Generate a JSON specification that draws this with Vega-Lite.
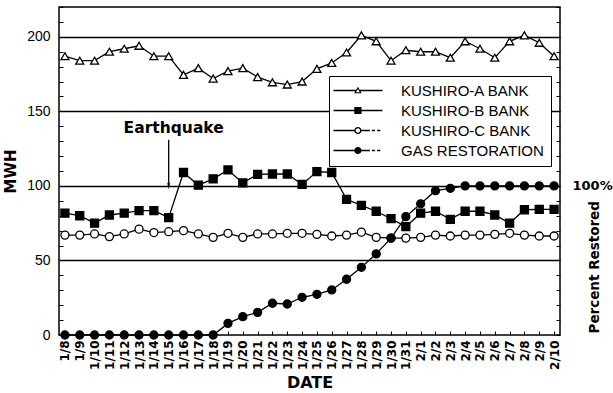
{
  "$schema": "https://vega.github.io/schema/vega-lite/v6.json",
  "width": 501,
  "height": 328,
  "autosize": {"type": "none"},
  "padding": {"left": 59, "top": 7, "right": 53, "bottom": 58},
  "background": "white",
  "config": {
    "font": "Liberation Sans",
    "view": {"stroke": "black", "strokeWidth": 1.5},
    "axis": {"domainColor": "black", "tickColor": "black", "labelColor": "black", "titleColor": "black"}
  },
  "data": {
    "values": [
      {"d": "1/8", "KUSHIRO-A BANK": 187, "KUSHIRO-B BANK": 81.7, "KUSHIRO-C BANK": 67, "GAS RESTORATION": 0},
      {"d": "1/9", "KUSHIRO-A BANK": 184, "KUSHIRO-B BANK": 80, "KUSHIRO-C BANK": 67, "GAS RESTORATION": 0},
      {"d": "1/10", "KUSHIRO-A BANK": 184, "KUSHIRO-B BANK": 75, "KUSHIRO-C BANK": 67.8, "GAS RESTORATION": 0},
      {"d": "1/11", "KUSHIRO-A BANK": 190, "KUSHIRO-B BANK": 80.5, "KUSHIRO-C BANK": 66, "GAS RESTORATION": 0},
      {"d": "1/12", "KUSHIRO-A BANK": 192, "KUSHIRO-B BANK": 81.7, "KUSHIRO-C BANK": 67.8, "GAS RESTORATION": 0},
      {"d": "1/13", "KUSHIRO-A BANK": 194, "KUSHIRO-B BANK": 83.4, "KUSHIRO-C BANK": 71, "GAS RESTORATION": 0},
      {"d": "1/14", "KUSHIRO-A BANK": 187, "KUSHIRO-B BANK": 83.4, "KUSHIRO-C BANK": 68.7, "GAS RESTORATION": 0},
      {"d": "1/15", "KUSHIRO-A BANK": 187, "KUSHIRO-B BANK": 78.7, "KUSHIRO-C BANK": 69.3, "GAS RESTORATION": 0},
      {"d": "1/16", "KUSHIRO-A BANK": 174.5, "KUSHIRO-B BANK": 109, "KUSHIRO-C BANK": 70, "GAS RESTORATION": 0},
      {"d": "1/17", "KUSHIRO-A BANK": 179, "KUSHIRO-B BANK": 100.5, "KUSHIRO-C BANK": 67.8, "GAS RESTORATION": 0},
      {"d": "1/18", "KUSHIRO-A BANK": 172, "KUSHIRO-B BANK": 104.7, "KUSHIRO-C BANK": 65.5, "GAS RESTORATION": 0},
      {"d": "1/19", "KUSHIRO-A BANK": 177, "KUSHIRO-B BANK": 110.7, "KUSHIRO-C BANK": 68.2, "GAS RESTORATION": 7.8},
      {"d": "1/20", "KUSHIRO-A BANK": 179, "KUSHIRO-B BANK": 102, "KUSHIRO-C BANK": 65.5, "GAS RESTORATION": 12.3},
      {"d": "1/21", "KUSHIRO-A BANK": 173, "KUSHIRO-B BANK": 107.8, "KUSHIRO-C BANK": 67.8, "GAS RESTORATION": 15.2},
      {"d": "1/22", "KUSHIRO-A BANK": 169.5, "KUSHIRO-B BANK": 108, "KUSHIRO-C BANK": 67.8, "GAS RESTORATION": 21.3},
      {"d": "1/23", "KUSHIRO-A BANK": 168, "KUSHIRO-B BANK": 108, "KUSHIRO-C BANK": 68.2, "GAS RESTORATION": 20.8},
      {"d": "1/24", "KUSHIRO-A BANK": 170, "KUSHIRO-B BANK": 101, "KUSHIRO-C BANK": 68.2, "GAS RESTORATION": 25.3},
      {"d": "1/25", "KUSHIRO-A BANK": 178.5, "KUSHIRO-B BANK": 109.6, "KUSHIRO-C BANK": 67.5, "GAS RESTORATION": 27.3},
      {"d": "1/26", "KUSHIRO-A BANK": 182.5, "KUSHIRO-B BANK": 109, "KUSHIRO-C BANK": 66.4, "GAS RESTORATION": 30.2},
      {"d": "1/27", "KUSHIRO-A BANK": 189.5, "KUSHIRO-B BANK": 91, "KUSHIRO-C BANK": 67, "GAS RESTORATION": 37.4},
      {"d": "1/28", "KUSHIRO-A BANK": 201, "KUSHIRO-B BANK": 87, "KUSHIRO-C BANK": 69, "GAS RESTORATION": 45.4},
      {"d": "1/29", "KUSHIRO-A BANK": 197, "KUSHIRO-B BANK": 83, "KUSHIRO-C BANK": 65.5, "GAS RESTORATION": 54.4},
      {"d": "1/30", "KUSHIRO-A BANK": 184, "KUSHIRO-B BANK": 78, "KUSHIRO-C BANK": 65, "GAS RESTORATION": 65},
      {"d": "1/31", "KUSHIRO-A BANK": 191, "KUSHIRO-B BANK": 72.7, "KUSHIRO-C BANK": 65, "GAS RESTORATION": 79.4},
      {"d": "2/1", "KUSHIRO-A BANK": 190, "KUSHIRO-B BANK": 81.7, "KUSHIRO-C BANK": 65.5, "GAS RESTORATION": 88},
      {"d": "2/2", "KUSHIRO-A BANK": 190, "KUSHIRO-B BANK": 83, "KUSHIRO-C BANK": 67, "GAS RESTORATION": 96.8},
      {"d": "2/3", "KUSHIRO-A BANK": 186, "KUSHIRO-B BANK": 77.6, "KUSHIRO-C BANK": 66.4, "GAS RESTORATION": 98.4},
      {"d": "2/4", "KUSHIRO-A BANK": 197, "KUSHIRO-B BANK": 83, "KUSHIRO-C BANK": 67, "GAS RESTORATION": 100},
      {"d": "2/5", "KUSHIRO-A BANK": 192, "KUSHIRO-B BANK": 83, "KUSHIRO-C BANK": 67, "GAS RESTORATION": 100},
      {"d": "2/6", "KUSHIRO-A BANK": 186, "KUSHIRO-B BANK": 80.5, "KUSHIRO-C BANK": 67.5, "GAS RESTORATION": 100},
      {"d": "2/7", "KUSHIRO-A BANK": 197, "KUSHIRO-B BANK": 75, "KUSHIRO-C BANK": 68.2, "GAS RESTORATION": 100},
      {"d": "2/8", "KUSHIRO-A BANK": 201, "KUSHIRO-B BANK": 84, "KUSHIRO-C BANK": 67, "GAS RESTORATION": 100},
      {"d": "2/9", "KUSHIRO-A BANK": 196, "KUSHIRO-B BANK": 84.3, "KUSHIRO-C BANK": 66.4, "GAS RESTORATION": 100},
      {"d": "2/10", "KUSHIRO-A BANK": 187, "KUSHIRO-B BANK": 84.3, "KUSHIRO-C BANK": 66.4, "GAS RESTORATION": 100}
    ]
  },
  "layer": [
    {
      "transform": [{"fold": ["KUSHIRO-A BANK", "KUSHIRO-B BANK", "KUSHIRO-C BANK", "GAS RESTORATION"], "as": ["s", "v"]}],
      "mark": {"type": "line", "color": "black", "strokeWidth": 1.3},
      "encoding": {
        "x": {"field": "d", "type": "ordinal", "sort": null, "scale": {"type": "point", "padding": 0.4},
          "axis": {"title": "DATE", "titleFont": "DejaVu Sans", "titleFontSize": 16, "titleFontWeight": "bold", "titlePadding": 5,
            "labelAngle": 270, "labelFont": "DejaVu Sans", "labelFontSize": 12, "labelFontWeight": "bold", "labelPadding": 9,
            "tickSize": -4, "domain": false, "grid": false}},
        "y": {"field": "v", "type": "quantitative", "scale": {"domain": [0, 220], "nice": false},
          "axis": {"title": "MWH", "titleFont": "DejaVu Sans", "titleFontSize": 15, "titleFontWeight": "bold", "titlePadding": 8,
            "values": [0, 10, 20, 30, 40, 50, 60, 70, 80, 90, 100, 110, 120, 130, 140, 150, 160, 170, 180, 190, 200, 210, 220],
            "labelExpr": "datum.value % 50 == 0 ? datum.label : ''", "labelFontSize": 14, "labelPadding": 13,
            "tickSize": -4, "domain": false, "grid": true, "gridColor": "black", "gridWidth": 1.3,
            "gridOpacity": {"condition": {"test": "datum.value % 50 == 0 && datum.value > 0", "value": 1}, "value": 0}}},
        "detail": {"field": "s"}
      }
    },
    {
      "transform": [{"fold": ["KUSHIRO-A BANK", "KUSHIRO-B BANK", "KUSHIRO-C BANK", "GAS RESTORATION"], "as": ["s", "v"]}],
      "mark": {"type": "point", "filled": true, "stroke": "black", "strokeWidth": 1.3, "opacity": 1, "size": 64},
      "encoding": {
        "x": {"field": "d", "type": "ordinal", "sort": null},
        "y": {"field": "v", "type": "quantitative",
          "axis": {"orient": "right", "title": "Percent Restored", "titleFont": "DejaVu Sans", "titleFontSize": 13.5, "titleFontWeight": "bold",
            "titleAngle": 270, "titleX": 34, "titleY": 326, "titleAlign": "left", "titleBaseline": "middle",
            "values": [0, 10, 20, 30, 40, 50, 60, 70, 80, 90, 100, 110, 120, 130, 140, 150, 160, 170, 180, 190, 200, 210, 220],
            "labelExpr": "datum.value == 100 ? '100%' : ''", "labelFont": "DejaVu Sans", "labelFontSize": 13, "labelFontWeight": "bold", "labelPadding": 16,
            "tickSize": -4, "domain": false, "grid": false}},
        "shape": {"field": "s", "type": "nominal", "legend": null,
          "scale": {"domain": ["KUSHIRO-A BANK", "KUSHIRO-B BANK", "KUSHIRO-C BANK", "GAS RESTORATION"], "range": ["triangle-up", "square", "circle", "circle"]}},
        "fill": {"field": "s", "type": "nominal", "legend": null,
          "scale": {"domain": ["KUSHIRO-A BANK", "KUSHIRO-B BANK", "KUSHIRO-C BANK", "GAS RESTORATION"], "range": ["white", "black", "white", "black"]}}
      }
    },
    {
      "transform": [{"fold": ["KUSHIRO-A BANK", "KUSHIRO-B BANK", "KUSHIRO-C BANK", "GAS RESTORATION"], "as": ["s", "v"]}],
      "mark": {"type": "point", "filled": true, "color": "black", "opacity": 0, "size": 64},
      "encoding": {
        "x": {"field": "d", "type": "ordinal", "sort": null},
        "y": {"field": "v", "type": "quantitative", "axis": null},
        "shape": {"field": "s", "type": "nominal",
          "scale": {"domain": ["KUSHIRO-A BANK", "KUSHIRO-B BANK", "KUSHIRO-C BANK", "GAS RESTORATION"],
            "range": [
              "M-2.5,-0.16H3.1V0.16H-2.5ZM4.1,-0.16H9.75V0.16H4.1ZM3.6,-0.95L4.55,0.7L2.65,0.7ZM3.6,-0.4L3.12,0.43L4.08,0.43Z",
              "M-2.5,-0.16H9.75V0.16H-2.5ZM2.7,-0.9H4.5V0.9H2.7Z",
              "M-2.5,-0.16H2.75V0.16H-2.5ZM4.45,-0.16H6.6V0.16H4.45ZM7.1,-0.16H7.9V0.16H7.1ZM8.4,-0.16H9.2V0.16H8.4ZM4.5,0A0.9,0.9,0,1,1,2.7,0A0.9,0.9,0,1,1,4.5,0ZM4.15,0A0.55,0.55,0,1,0,3.05,0A0.55,0.55,0,1,0,4.15,0Z",
              "M-2.5,-0.16H3V0.16H-2.5ZM4.2,-0.16H6.6V0.16H4.2ZM7.1,-0.16H7.9V0.16H7.1ZM8.4,-0.16H9.2V0.16H8.4ZM4.5,0A0.9,0.9,0,1,1,2.7,0A0.9,0.9,0,1,1,4.5,0Z"
            ]},
          "legend": {"title": null, "orient": "none", "legendX": 270, "legendY": 69, "strokeColor": "black", "fillColor": "white", "padding": 7,
            "labelFont": "Liberation Sans", "labelFontSize": 15, "labelColor": "black", "labelOffset": 50, "rowPadding": 4,
            "symbolSize": 64, "symbolOpacity": 1, "symbolFillColor": "black", "symbolStrokeColor": "transparent", "symbolStrokeWidth": 0}}
      }
    },
    {
      "data": {"values": [{"d": "1/15", "v": 139, "t": "Earthquake"}]},
      "mark": {"type": "text", "font": "DejaVu Sans", "fontSize": 15.5, "fontWeight": "bold", "color": "black", "dx": 5, "baseline": "middle"},
      "encoding": {"x": {"field": "d", "type": "ordinal", "sort": null}, "y": {"field": "v", "type": "quantitative", "axis": null}, "text": {"field": "t"}}
    },
    {
      "data": {"values": [{"d": "1/15", "v": 131, "v2": 101}]},
      "mark": {"type": "rule", "color": "black", "strokeWidth": 1.3},
      "encoding": {"x": {"field": "d", "type": "ordinal", "sort": null}, "y": {"field": "v", "type": "quantitative", "axis": null}, "y2": {"field": "v2"}}
    },
    {
      "data": {"values": [{"d": "1/15", "v": 99}]},
      "mark": {"type": "point", "shape": "M-0.5,-1.6L0,0.6L0.5,-1.6L0,-1Z", "filled": true, "color": "black", "opacity": 1, "size": 40},
      "encoding": {"x": {"field": "d", "type": "ordinal", "sort": null}, "y": {"field": "v", "type": "quantitative", "axis": null}}
    }
  ],
  "resolve": {"axis": {"y": "independent"}, "scale": {"shape": "independent"}}
}
